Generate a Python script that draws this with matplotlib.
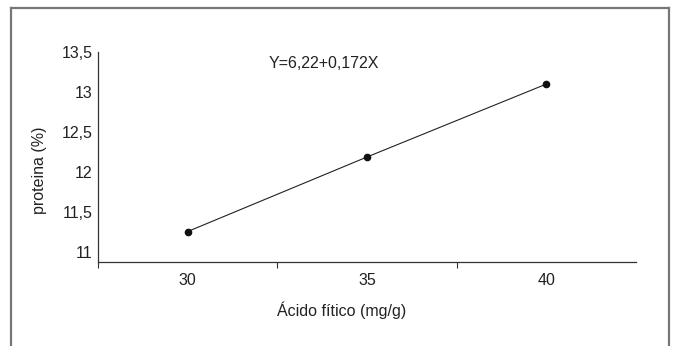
import matplotlib.pyplot as plt
from matplotlib.lines import Line2D

plt.rcParams['font.family'] = ['Liberation Sans', 'DejaVu Sans']

acido = [30, 35, 40]
proteina = [11.26, 12.19, 13.10]
y_ticks = [11, 11.5, 12, 12.5, 13, 13.5]
y_labels = ['11', '11,5', '12', '12,5', '13', '13,5']
equacao = 'Y=6,22+0,172X'

fs = 11.5
cor_txt = '#222222'

fig = plt.figure(figsize=(6.74, 3.46), dpi=100)
ax = fig.add_axes([0.1454, 0.2428, 0.7982, 0.6069])

ax.plot(acido, proteina, color='#222222', lw=0.8, marker='o', ms=4.5,
        mfc='#111111', mec='#111111')

ax.set_xlim(27.5, 42.5)
ax.set_ylim(10.88, 13.5)

# eixo tipo categoria: marcas entre categorias, rotulos no centro
ax.set_xticks([27.5, 32.5, 37.5])
ax.set_xticklabels([])
ax.set_xticks(acido, minor=True)
ax.set_xticklabels([str(v) for v in acido], minor=True)
ax.tick_params(axis='x', which='major', length=4, width=0.8, color='#333333', direction='out')
ax.tick_params(axis='x', which='minor', length=0, pad=8, labelsize=fs, labelcolor=cor_txt)

ax.set_yticks(y_ticks)
ax.set_yticklabels(y_labels)
ax.tick_params(axis='y', length=0, pad=4, labelsize=fs, labelcolor=cor_txt)

for s in ['top', 'right']:
    ax.spines[s].set_visible(False)
for s in ['left', 'bottom']:
    ax.spines[s].set_color('#333333')
    ax.spines[s].set_linewidth(0.9)

ax.set_xlabel('Ácido fítico (mg/g)', fontsize=fs, color=cor_txt)
ax.set_ylabel('proteina (%)', fontsize=fs, color=cor_txt)
ax.xaxis.set_label_coords(0.4535, -0.19)
ax.yaxis.set_label_coords(-0.095, 0.438)

ax.text(33.8, 13.36, equacao, fontsize=fs, color=cor_txt, ha='center', va='center')

# moldura externa (aberta embaixo)
fx0, fx1, fy1 = 11 / 674, 669 / 674, 1 - 8 / 346
for xs, ys in [([fx0, fx0], [0, fy1]), ([fx1, fx1], [0, fy1]), ([fx0, fx1], [fy1, fy1])]:
    fig.add_artist(Line2D(xs, ys, color='#777777', lw=1.6, transform=fig.transFigure))

fig.savefig('out.png', dpi=100)
